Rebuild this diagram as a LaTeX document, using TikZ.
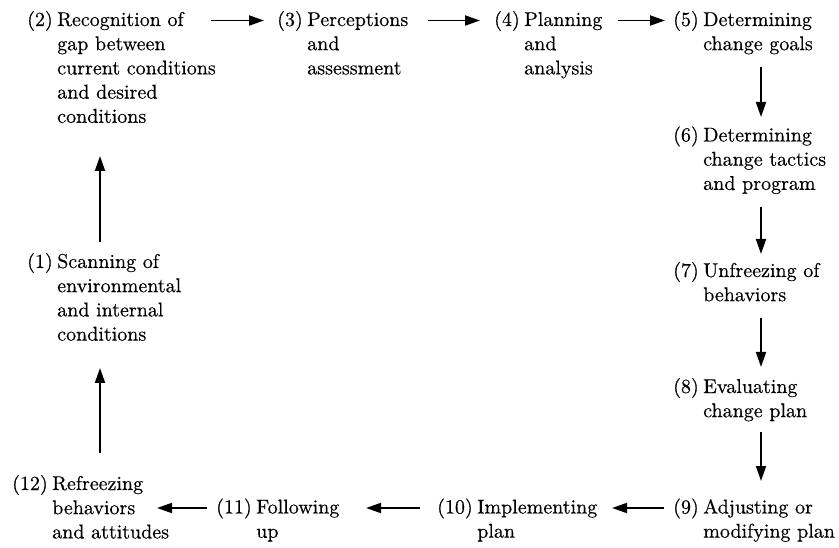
\documentclass[tikz,border=0pt]{standalone}
\usepackage{fontspec}
\setmainfont{lmroman10-regular}[Extension=.otf, FakeBold=0.4]
\usetikzlibrary{arrows.meta,calc}

% one step of the cycle: number, then its text with a hanging indent
\newcommand{\stepitem}[2]{\begin{tabular}[t]{@{}l@{\hspace{4.5pt}}l@{}}#1 & #2\end{tabular}}

\begin{document}
\begin{tikzpicture}[x=1pt,y=-1pt,
  stage/.style={anchor=base west, inner sep=0pt, font=\fontsize{20}{24.2}\selectfont},
  flow/.style={line width=1.9pt, -{Triangle[length=15pt,width=10pt]}}]
\useasboundingbox (0,0) rectangle (839,548);

% stages of the change process
\node[stage] (n2) at (27,26) {\stepitem{(2)}{Recognition of\\ & gap between\\ & current conditions\\ & and desired\\ & conditions}};
\node[stage] (n3) at (277,26) {\stepitem{(3)}{Perceptions\\ & and\\ & assessment}};
\node[stage] (n4) at (494,26) {\stepitem{(4)}{Planning\\ & and\\ & analysis}};
\node[stage] (n5) at (673,26) {\stepitem{(5)}{Determining\\ & change goals}};
\node[stage] (n6) at (673,141.5) {\stepitem{(6)}{Determining\\ & change tactics\\ & and program}};
\node[stage] (n7) at (673,277) {\stepitem{(7)}{Unfreezing of\\ & behaviors}};
\node[stage] (n8) at (673,393) {\stepitem{(8)}{Evaluating\\ & change plan}};
\node[stage] (n9) at (673,513.5) {\stepitem{(9)}{Adjusting or\\ & modifying plan}};
\node[stage] (n10) at (437,513.5) {\stepitem{(10)}{Implementing\\ & plan}};
\node[stage] (n11) at (216,513.5) {\stepitem{(11)}{Following\\ & up}};
\node[stage] (n12) at (12,490) {\stepitem{(12)}{Refreezing\\ & behaviors\\ & and attitudes}};
\node[stage] (n1) at (27,268) {\stepitem{(1)}{Scanning of\\ & environmental\\ & and internal\\ & conditions}};

% top row, left to right
\draw[flow] ($(n2.base west)+(184pt,5.5pt)$) -- ($(n3.base west)+(-13pt,5.5pt)$);
\draw[flow] ($(n3.base west)+(151pt,5.5pt)$) -- ($(n4.base west)+(-14pt,5.5pt)$);
\draw[flow] ($(n4.base west)+(124pt,5.5pt)$) -- ($(n5.base west)+(-8pt,5.5pt)$);
% right column, downwards
\draw[flow] ($(n5.base west)+(88pt,-41pt)$) -- ($(n6.base west)+(88pt,24.5pt)$);
\draw[flow] ($(n6.base west)+(88pt,-65.5pt)$) -- ($(n7.base west)+(88pt,23pt)$);
\draw[flow] ($(n7.base west)+(88pt,-41pt)$) -- ($(n8.base west)+(88pt,26pt)$);
\draw[flow] ($(n8.base west)+(88pt,-39pt)$) -- ($(n9.base west)+(88pt,32.5pt)$);
% bottom row, right to left
\draw[flow] ($(n9.base west)+(-9pt,5.5pt)$) -- ($(n10.base west)+(175pt,5.5pt)$);
\draw[flow] ($(n10.base west)+(-17pt,5.5pt)$) -- ($(n11.base west)+(150pt,5.5pt)$);
\draw[flow] ($(n11.base west)+(-9pt,5.5pt)$) -- ($(n12.base west)+(145pt,-18pt)$);
% left column, upwards
\draw[flow] ($(n12.base west)+(88pt,37pt)$) -- ($(n1.base west)+(73pt,-100pt)$);
\draw[flow] ($(n1.base west)+(73pt,26pt)$) -- ($(n2.base west)+(73pt,-130pt)$);
\end{tikzpicture}
\end{document}
